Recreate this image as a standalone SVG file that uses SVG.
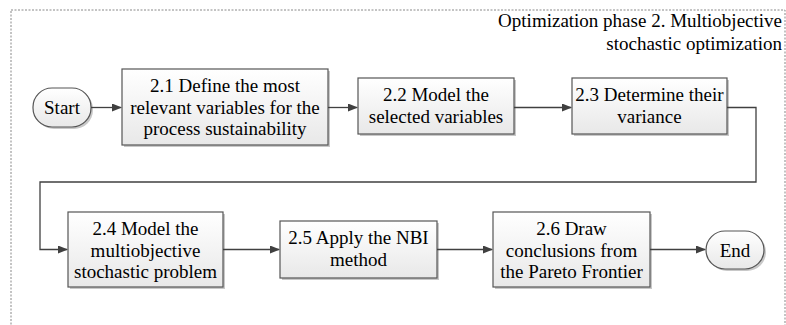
<svg xmlns="http://www.w3.org/2000/svg" width="786" height="325" viewBox="0 0 786 325">
<defs>
<linearGradient id="g" x1="0" y1="0" x2="0" y2="1">
<stop offset="0" stop-color="#ffffff"/>
<stop offset="1" stop-color="#e8e8e8"/>
</linearGradient>
<marker id="ah" markerWidth="10" markerHeight="8" refX="9" refY="4" orient="auto" markerUnits="userSpaceOnUse">
<path d="M0,0 L10,4 L0,8 Z" fill="#404040"/>
</marker>
</defs>
<rect width="786" height="325" fill="#ffffff"/>
<rect x="11" y="10" width="774" height="330" fill="none" stroke="#888" stroke-width="1" stroke-dasharray="2,1.5"/>
<text x="782" y="27" font-family="Liberation Serif" font-size="19" text-anchor="end">Optimization phase 2. Multiobjective</text>
<text x="782" y="50" font-family="Liberation Serif" font-size="19" text-anchor="end">stochastic optimization</text>
<g id="start">
<rect x="35" y="90" width="58" height="39" rx="19" fill="#c8c8c8"/>
<rect x="33" y="88" width="58" height="39" rx="19" fill="url(#g)" stroke="#555" stroke-width="1.2"/>
<text x="62" y="114" font-family="Liberation Serif" font-size="19" text-anchor="middle">Start</text>
</g>
<g id="n21">
<rect x="124" y="71" width="206" height="76" fill="#c8c8c8"/>
<rect x="122" y="69" width="206" height="76" fill="url(#g)" stroke="#555" stroke-width="1.2"/>
<text x="225" y="92" font-family="Liberation Serif" font-size="19" text-anchor="middle">2.1 Define the most</text>
<text x="225" y="113.5" font-family="Liberation Serif" font-size="19" text-anchor="middle">relevant variables for the</text>
<text x="225" y="135" font-family="Liberation Serif" font-size="19" text-anchor="middle">process sustainability</text>
</g>
<g id="n22">
<rect x="360" y="80" width="156" height="56" fill="#c8c8c8"/>
<rect x="358" y="78" width="156" height="56" fill="url(#g)" stroke="#555" stroke-width="1.2"/>
<text x="436" y="101" font-family="Liberation Serif" font-size="19" text-anchor="middle">2.2 Model the</text>
<text x="436" y="123" font-family="Liberation Serif" font-size="19" text-anchor="middle">selected variables</text>
</g>
<g id="n23">
<rect x="574" y="80" width="155" height="56" fill="#c8c8c8"/>
<rect x="572" y="78" width="155" height="56" fill="url(#g)" stroke="#555" stroke-width="1.2"/>
<text x="649.5" y="101" font-family="Liberation Serif" font-size="19" text-anchor="middle">2.3 Determine their</text>
<text x="649.5" y="123" font-family="Liberation Serif" font-size="19" text-anchor="middle">variance</text>
</g>
<g id="n24">
<rect x="70" y="214" width="155" height="75" fill="#c8c8c8"/>
<rect x="68" y="212" width="155" height="75" fill="url(#g)" stroke="#555" stroke-width="1.2"/>
<text x="145.5" y="235" font-family="Liberation Serif" font-size="19" text-anchor="middle">2.4 Model the</text>
<text x="145.5" y="256.5" font-family="Liberation Serif" font-size="19" text-anchor="middle">multiobjective</text>
<text x="145.5" y="278" font-family="Liberation Serif" font-size="19" text-anchor="middle">stochastic problem</text>
</g>
<g id="n25">
<rect x="282" y="223" width="157" height="57" fill="#c8c8c8"/>
<rect x="280" y="221" width="157" height="57" fill="url(#g)" stroke="#555" stroke-width="1.2"/>
<text x="358.5" y="244" font-family="Liberation Serif" font-size="19" text-anchor="middle">2.5 Apply the NBI</text>
<text x="358.5" y="266" font-family="Liberation Serif" font-size="19" text-anchor="middle">method</text>
</g>
<g id="n26">
<rect x="495" y="214" width="157" height="75" fill="#c8c8c8"/>
<rect x="493" y="212" width="157" height="75" fill="url(#g)" stroke="#555" stroke-width="1.2"/>
<text x="571.5" y="235" font-family="Liberation Serif" font-size="19" text-anchor="middle">2.6 Draw</text>
<text x="571.5" y="256.5" font-family="Liberation Serif" font-size="19" text-anchor="middle">conclusions from</text>
<text x="571.5" y="278" font-family="Liberation Serif" font-size="19" text-anchor="middle">the Pareto Frontier</text>
</g>
<g id="end">
<rect x="708" y="233" width="58" height="38" rx="19" fill="#c8c8c8"/>
<rect x="706" y="231" width="58" height="38" rx="19" fill="url(#g)" stroke="#555" stroke-width="1.2"/>
<text x="735" y="257" font-family="Liberation Serif" font-size="19" text-anchor="middle">End</text>
</g>
<g id="connectors" fill="none" stroke="#404040" stroke-width="1.3">
<path d="M91,107.5 H121" marker-end="url(#ah)"/>
<path d="M328,107.5 H357" marker-end="url(#ah)"/>
<path d="M514,107.5 H571" marker-end="url(#ah)"/>
<path d="M727,107.5 H756 V182 H40 V249.5 H67" marker-end="url(#ah)"/>
<path d="M223,249.5 H279" marker-end="url(#ah)"/>
<path d="M437,249.5 H492" marker-end="url(#ah)"/>
<path d="M650,249.5 H705" marker-end="url(#ah)"/>
</g>
</svg>
